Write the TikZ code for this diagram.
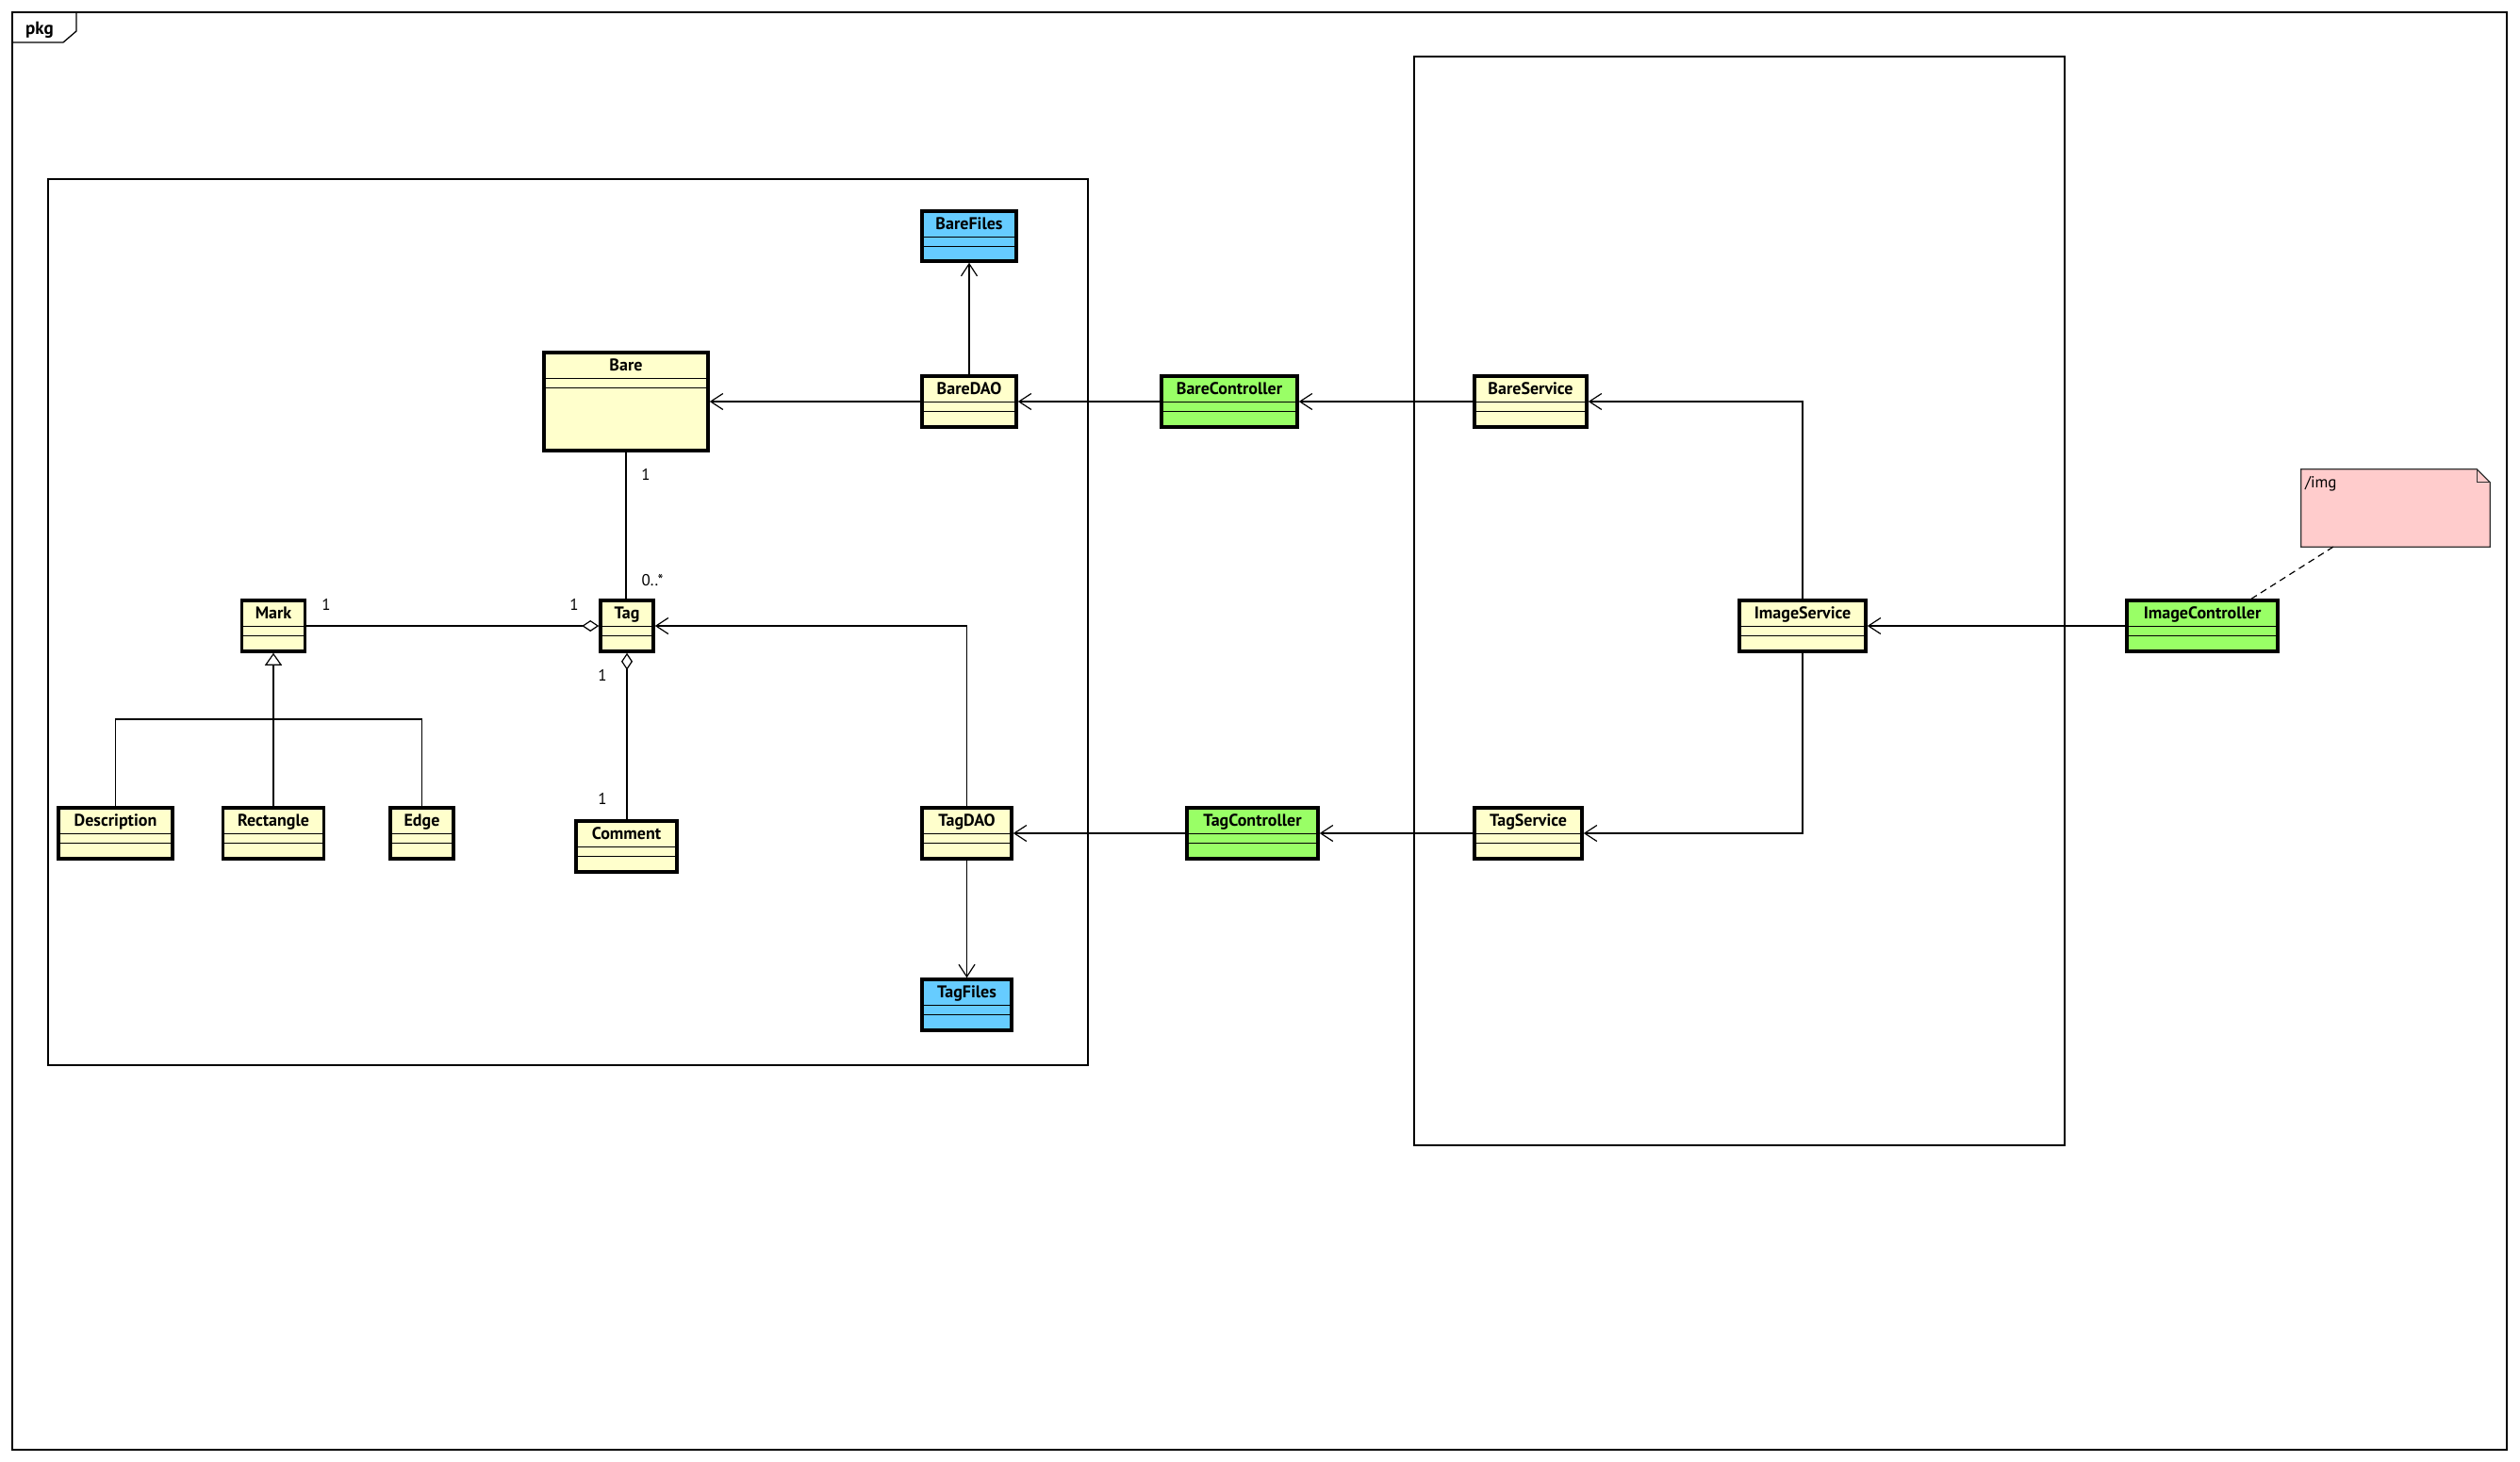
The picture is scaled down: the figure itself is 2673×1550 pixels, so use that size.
\documentclass[tikz,border=0pt]{standalone}
\usepackage{fontspec}
\setmainfont{PT Sans}
\usetikzlibrary{arrows.meta,calc}

\definecolor{classyellow}{HTML}{FFFFCC}
\definecolor{fileblue}{HTML}{66CCFF}
\definecolor{ctlgreen}{HTML}{99FF66}
\definecolor{notepink}{HTML}{FFCCCC}

\tikzset{
  classbox/.style={draw=black, line width=3.5pt, inner sep=0pt},
  classname/.style={font=\fontsize{18}{21}\selectfont\bfseries, inner sep=0pt},
  compsep/.style={line width=1.3pt},
  conn/.style={line width=1.2pt},
  dep/.style={conn, -{Straight Barb[length=13pt,width=17pt]}},
  aggr/.style={conn, {Diamond[open,length=18pt,width=12pt]}-},
  gen/.style={conn, -{Triangle[open,length=13pt,width=18pt]}},
  mult/.style={font=\fontsize{17}{20}\selectfont, inner sep=0pt},
  pkgframe/.style={draw, line width=1.2pt},
}

% name, centre x, centre y, width, height, fill, class name
\newcommand\umlclass[7]{%
  \node[classbox, fill=#6, minimum width=#4pt, minimum height=#5pt] (#1) at (#2,#3) {};
  \node[classname, anchor=base] (#1-title) at ($(#1.north)+(0,21.5)$) {#7};
  \draw[compsep] ($(#1.north west)+(0,29)$) -- ($(#1.north east)+(0,29)$);
  \draw[compsep] ($(#1.north west)+(0,39)$) -- ($(#1.north east)+(0,39)$);
}

\begin{document}
\begin{tikzpicture}[x=1pt,y=-1pt]
\useasboundingbox (0,0) rectangle (2673,1550);

% outer package frame with its tab
\draw[line width=1.3pt] (13,13) rectangle (2659,1538);
\draw[line width=1.3pt] (13,45) -- (67,45) -- (81,33) -- (81,13);
\node[font=\fontsize{19}{22}\selectfont\bfseries, anchor=base west, inner sep=0pt] (pkgname) at (27,36) {pkg};

% inner packages
\draw[pkgframe] (51,190) rectangle (1154,1130);
\draw[pkgframe] (1500,60) rectangle (2190,1215);

% classes
\umlclass{barefiles}{1028}{250.5}{100}{53}{fileblue}{BareFiles}
\umlclass{bare}{664}{426}{174}{104}{classyellow}{Bare}
\umlclass{baredao}{1028}{426}{100}{54}{classyellow}{BareDAO}
\umlclass{barectl}{1304}{426}{144}{54}{ctlgreen}{BareController}
\umlclass{bareserv}{1623.5}{426}{119}{54}{classyellow}{BareService}
\umlclass{imgserv}{1912}{664}{134}{54}{classyellow}{ImageService}
\umlclass{imgctl}{2336}{664}{160}{54}{ctlgreen}{ImageController}
\umlclass{mark}{290}{664}{67}{54}{classyellow}{Mark}
\umlclass{tag}{665}{664}{56}{54}{classyellow}{Tag}
\umlclass{comment}{664.5}{898}{107}{54}{classyellow}{Comment}
\umlclass{desc}{122.5}{884}{121}{54}{classyellow}{Description}
\umlclass{rect}{290}{884}{107}{54}{classyellow}{Rectangle}
\umlclass{edge}{447.5}{884}{67}{54}{classyellow}{Edge}
\umlclass{tagdao}{1025.5}{884}{95}{54}{classyellow}{TagDAO}
\umlclass{tagfiles}{1025.5}{1066}{95}{54}{fileblue}{TagFiles}
\umlclass{tagctl}{1328.5}{884}{139}{54}{ctlgreen}{TagController}
\umlclass{tagserv}{1621}{884}{114}{54}{classyellow}{TagService}

% connectors
\draw[dep] (baredao.north) -- (barefiles.south);
\draw[dep] (baredao.west) -- (baredao.west -| bare.east);
\draw[dep] (barectl.west) -- (baredao.east);
\draw[dep] (bareserv.west) -- (barectl.east);
\draw[dep] (imgserv.north) |- (bareserv.east);
\draw[dep] (imgserv.south) |- (tagserv.east);
\draw[dep] (imgctl.west) -- (imgserv.east);
\draw[dep] (tagserv.west) -- (tagctl.east);
\draw[dep] (tagctl.west) -- (tagdao.east);
\draw[dep] (tagdao.south) -- (tagfiles.north);
\draw[dep] (tagdao.north) |- (tag.east);
\draw[conn] (bare.south) -- (bare.south |- tag.north);
\draw[aggr] (tag.west) -- (tag.west -| mark.east);
\draw[aggr] (tag.south) -- (tag.south |- comment.north);
\coordinate (genbar) at (290,763);
\draw[gen] (rect.north) -- (rect.north |- mark.south);
\draw[conn] (desc.north) |- (genbar) -| (edge.north);

% multiplicities
\node[mult] (m-bare) at (685,503) {1};
\node[mult] (m-tagmany) at (692,616) {0..*};
\node[mult] (m-mark) at (346,641) {1};
\node[mult] (m-tagmark) at (609,641) {1};
\node[mult] (m-tagcomment) at (639,716) {1};
\node[mult] (m-comment) at (639,847) {1};

% note attached to the image controller
\node[minimum width=200pt, minimum height=82pt, inner sep=0pt] (note) at (2541,539) {};
\filldraw[fill=notepink, draw=black!80, line width=1.2pt]
  (note.north west) -- ($(note.north east)+(-14,0)$) -- ($(note.north east)+(0,14)$)
  -- (note.south east) -- (note.south west) -- cycle;
\draw[draw=black!80, line width=1.2pt]
  ($(note.north east)+(-14,0)$) -- ($(note.north east)+(-14,14)$) -- ($(note.north east)+(0,14)$);
\node[font=\fontsize{17}{20}\selectfont, anchor=north west, inner sep=0pt] (notetext) at ($(note.north west)+(4,7)$) {/img};
\coordinate (notefoot) at ($(note.south west)+(34,0)$);
\coordinate (ctltop) at ($(imgctl.north)+(52,0)$);
\draw[conn, dash pattern=on 7pt off 5pt] (notefoot) -- (ctltop);

\end{tikzpicture}
\end{document}
